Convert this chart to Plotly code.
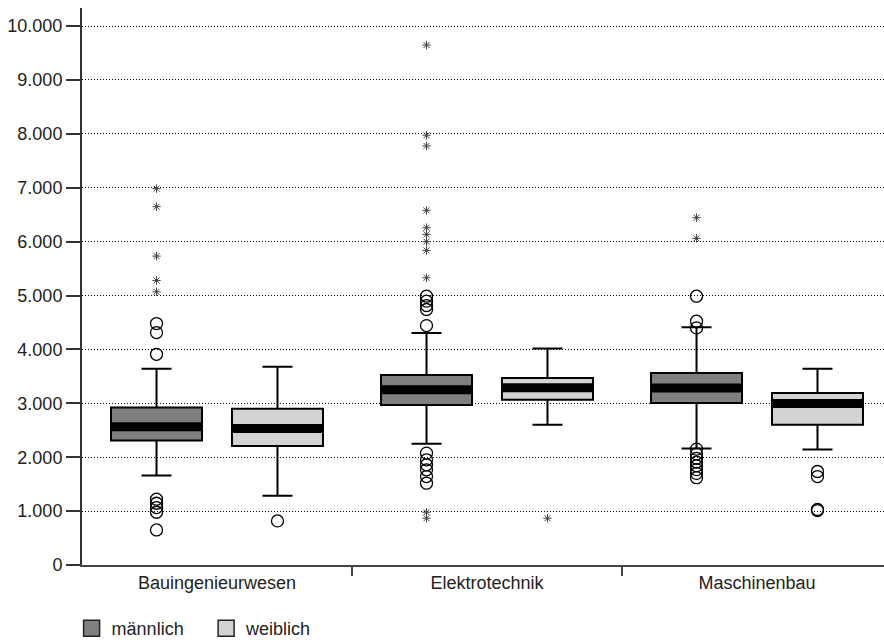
import plotly.graph_objects as go

# ---------------- data ----------------
categories = ["Bauingenieurwesen", "Elektrotechnik", "Maschinenbau"]

# männlich box statistics
m_q1 = [2311, 2968, 3005]
m_median = [2565, 3253, 3284]
m_q3 = [2924, 3526, 3563]
m_lower = [1660, 2249, 2162]
m_upper = [3643, 4306, 4411]

# weiblich box statistics
w_q1 = [2206, 3067, 2602]
w_median = [2531, 3290, 2998]
w_q3 = [2900, 3470, 3191]
w_lower = [1283, 2602, 2143]
w_upper = [3680, 4015, 3643]

# outliers (circles) and extreme values (asterisks), per category
m_outliers = [
    [4480, 4312, 3909, 1221, 1146, 1066, 979, 650],
    [4987, 4895, 4814, 4740, 4442, 2076, 1952, 1859, 1766, 1641, 1518],
    [4987, 4523, 4399, 2150, 2060, 1980, 1910, 1840, 1770, 1700, 1620],
]
m_extremes = [
    [6983, 6648, 5731, 5279, 5069],
    [9647, 7974, 7775, 6580, 6258, 6134, 5998, 5836, 5329, 979, 868],
    [6444, 6059],
]
w_outliers = [
    [818],
    [],
    [1735, 1641, 1030, 1010],
]
w_extremes = [
    [],
    [868],
    [],
]

y_ticks = list(range(0, 10001, 1000))

# ---------------- styling ----------------
FONT = "Liberation Sans"
TXT = "#222222"
M_FILL = "#7f7f7f"
W_FILL = "#d3d3d3"
OFFSET = 0.224
BOX_W = 0.337
PX_PER_CAT = 270
X_RANGE = [-0.5, 2.5 - 8 / 270]

fig = go.Figure()


def add_series(name, fill, sign, q1, med, q3, lo, hi, outl, extr):
    xs = [i + sign * OFFSET for i in range(len(categories))]
    fig.add_trace(go.Box(
        x=xs, q1=q1, median=med, q3=q3, lowerfence=lo, upperfence=hi,
        width=BOX_W, fillcolor=fill, line=dict(color="black", width=2),
        whiskerwidth=0.33, showlegend=False, name=name, hoverinfo="skip",
    ))
    # thick median band
    fig.add_trace(go.Scatter(
        x=xs, y=med, mode="markers", showlegend=False, hoverinfo="skip",
        marker=dict(symbol="line-ew", size=(BOX_W * PX_PER_CAT - 2) / 1.4,
                    line=dict(color="black", width=9)),
    ))
    ox, oy = [], []
    for i, vals in enumerate(outl):
        ox += [xs[i]] * len(vals)
        oy += vals
    fig.add_trace(go.Scatter(
        x=ox, y=oy, mode="markers", showlegend=False, hoverinfo="skip",
        marker=dict(symbol="circle-open", size=12, color="black",
                    line=dict(color="black", width=1.3)),
    ))
    ex, ey = [], []
    for i, vals in enumerate(extr):
        ex += [xs[i]] * len(vals)
        ey += vals
    fig.add_trace(go.Scatter(
        x=ex, y=ey, mode="markers", showlegend=False, hoverinfo="skip",
        marker=dict(symbol="asterisk-open", size=7, color="#444444",
                    line=dict(color="#444444", width=1)),
    ))
    # legend entry
    fig.add_trace(go.Scatter(
        x=[None], y=[None], mode="markers", name=name, showlegend=True,
        marker=dict(symbol="square", size=16, color=fill,
                    line=dict(color="#222222", width=1.5)),
    ))


add_series("männlich", M_FILL, -1, m_q1, m_median, m_q3, m_lower, m_upper,
           m_outliers, m_extremes)
add_series("weiblich", W_FILL, +1, w_q1, w_median, w_q3, w_lower, w_upper,
           w_outliers, w_extremes)

fig.update_layout(
    width=884, height=642,
    margin=dict(l=82, r=0, t=8, b=77, pad=0, autoexpand=False),
    paper_bgcolor="white", plot_bgcolor="white",
    font=dict(family=FONT, size=18, color=TXT),
    separators=",.",
    legend=dict(orientation="h", xref="container", yref="container",
                x=0.081, y=0.021, xanchor="left", yanchor="middle",
                itemsizing="trace", entrywidth=89.5, entrywidthmode="pixels",
                font=dict(size=18, color=TXT),
                bgcolor="rgba(0,0,0,0)"),
)
fig.update_xaxes(
    range=X_RANGE, tickmode="array", tickvals=list(range(len(categories))),
    ticktext=categories, ticks="", showgrid=False, zeroline=False,
    showline=True, linecolor="#444444", linewidth=2, automargin=False,
    minor=dict(tickmode="array", tickvals=[0.5, 1.5], ticks="outside",
               ticklen=9, tickwidth=2, tickcolor="#444444", showgrid=False),
)
fig.update_yaxes(
    range=[0, 10334], tickmode="array", tickvals=y_ticks, tickformat=",d",
    ticks="outside", ticklen=14, tickwidth=1.5, tickcolor="#333333",
    showline=True, linecolor="#333333", linewidth=2, zeroline=False,
    automargin=False,
    showgrid=True, gridcolor="black", griddash="1px,2px", gridwidth=1,
)

fig.write_html("out.html", config={"displayModeBar": False},
               post_script="document.body.style.margin='0';")
